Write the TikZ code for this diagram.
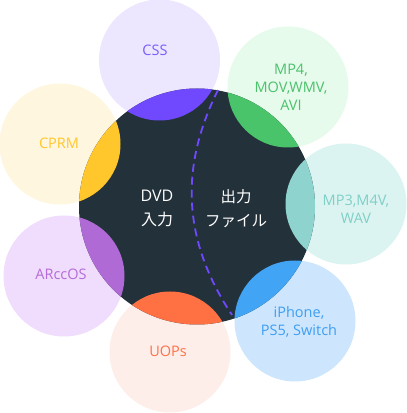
\documentclass[tikz,border=0pt]{standalone}
\usepackage{fontspec}
\setmainfont{Open Sans}
\newfontfamily\jpfont{Noto Sans CJK JP}
\usepackage{tikz}

\definecolor{core}{HTML}{22313A}
\definecolor{cssL}{HTML}{ECE6FF}\definecolor{cssT}{HTML}{7B5CFA}\definecolor{cssD}{HTML}{7049FF}
\definecolor{mpfL}{HTML}{E6FBEC}\definecolor{mpfT}{HTML}{4CC16C}\definecolor{mpfD}{HTML}{4AC46A}
\definecolor{mptL}{HTML}{DCF4F1}\definecolor{mptT}{HTML}{7FCFC6}\definecolor{mptD}{HTML}{8ED3CE}
\definecolor{devL}{HTML}{CDE6FD}\definecolor{devT}{HTML}{3E9EF2}\definecolor{devD}{HTML}{41A4F4}
\definecolor{uopL}{HTML}{FDEEEA}\definecolor{uopT}{HTML}{FF7149}\definecolor{uopD}{HTML}{FF7043}
\definecolor{arcL}{HTML}{F0DCFC}\definecolor{arcT}{HTML}{B56BD8}\definecolor{arcD}{HTML}{B06AD5}
\definecolor{cprL}{HTML}{FFF6DF}\definecolor{cprT}{HTML}{FFC72C}\definecolor{cprD}{HTML}{FFC72C}

\begin{document}
\begin{tikzpicture}[x=1pt,y=1pt,
  bubble/.style={circle,inner sep=0pt,minimum size=121pt},
  tag/.style={align=center,font=\fontsize{14.5}{18}\selectfont},
  coretag/.style={align=center,text=white,font=\fontsize{16}{24}\selectfont}]
\useasboundingbox (0,0) rectangle (407,413);
% outer bubbles
\node[bubble,fill=cssL] (css) at (159.5,353) {};
\node[bubble,fill=mpfL] (mpf) at (288,326) {};
\node[bubble,fill=mptL] (mpt) at (346,209) {};
\node[bubble,fill=devL] (dev) at (295,92) {};
\node[bubble,fill=uopL] (uop) at (170,61) {};
\node[bubble,fill=arcL] (arc) at (64,137) {};
\node[bubble,fill=cprL] (cpr) at (60,269) {};
% core circle
\node[circle,inner sep=0pt,minimum size=236pt,fill=core] (core) at (197,206.5) {};
\begin{scope}
\clip (core.center) circle (118);
\fill[cssD] (css.center) circle (60.5);
\fill[mpfD] (mpf.center) circle (60.5);
\fill[mptD] (mpt.center) circle (60.5);
\fill[devD] (dev.center) circle (60.5);
\fill[uopD] (uop.center) circle (60.5);
\fill[arcD] (arc.center) circle (60.5);
\fill[cprD] (cpr.center) circle (60.5);
\end{scope}
% labels
\node[tag,text=cssT] (cssTxt) at (155,363) {CSS};
\node[tag,text=mpfT] (mpfTxt) at (291,326) {MP4,\\MOV,WMV,\\AVI};
\node[tag,text=mptT] (mptTxt) at (356,204) {MP3,M4V,\\WAV};
\node[tag,text=devT] (devTxt) at (299,91.5) {iPhone,\\PS5, Switch};
\node[tag,text=uopT] (uopTxt) at (168,62) {UOPs};
\node[tag,text=arcT] (arcTxt) at (61,139) {ARccOS};
\node[tag,text=cprT] (cprTxt) at (59,270) {CPRM};
\node[coretag] (inTxt) at (157,204.5) {DVD\\\jpfont 入力};
\node[coretag,font=\jpfont\fontsize{15.5}{24}\selectfont] (outTxt) at (236,204.5) {出力\\ファイル};
% divider
\coordinate (cutTop) at (218,323);
\coordinate (cutBot) at (232,98);
\draw[cssD,line width=1.8pt,dash pattern=on 8pt off 5pt] (cutTop) to[bend right=30] (cutBot);
\end{tikzpicture}
\end{document}
